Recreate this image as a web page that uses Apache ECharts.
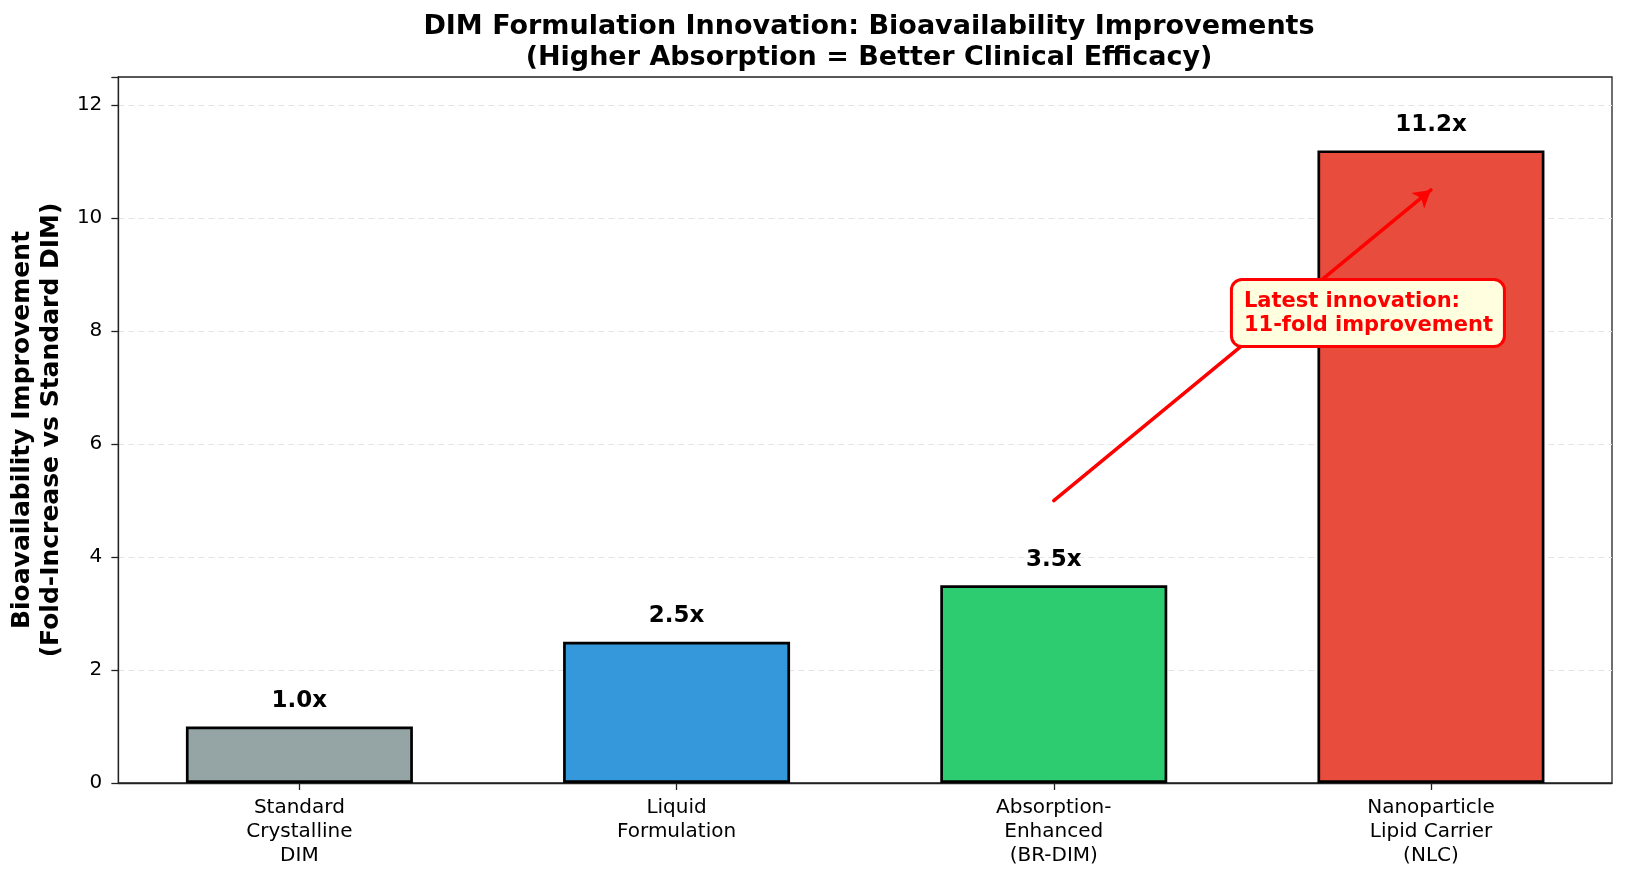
<!DOCTYPE html>
<html>
<head>
    <meta charset="utf-8" />
    <title>DIM Formulation Innovation</title>
    <script src="https://cdn.jsdelivr.net/npm/echarts@6/dist/echarts.min.js"></script>
    <style>
        html, body { margin: 0; padding: 0; background: #fff; }
        #chart { width: 1628px; height: 879px; }
    </style>
</head>
<body>
    <div id="chart"></div>
    <script type="text/javascript">
        // categories (x axis)
        const categories = [
            'Standard\nCrystalline\nDIM',
            'Liquid\nFormulation',
            'Absorption-\nEnhanced\n(BR-DIM)',
            'Nanoparticle\nLipid Carrier\n(NLC)'
        ];
        // fold increase vs standard DIM
        const foldValues = [1.0, 2.5, 3.5, 11.2];
        const barColors = ['#95a5a6', '#3498db', '#2ecc71', '#e74c3c'];
        // y ticks
        const yTicks = [0, 2, 4, 6, 8, 10, 12];
        // annotation: arrow from -> to, and box anchor (left-middle)
        const arrowFrom = [2, 5];
        const arrowTo = [3, 10.5];
        const noteAnchor = [2.475, 8.32];
        const noteText = 'Latest innovation:\n11-fold improvement';

        const font = 'DejaVu Sans';
        const catIdx = categories.map(function (c, i) { return i; });

        const chart = echarts.init(document.getElementById('chart'));
        const option = {
            backgroundColor: '#ffffff',
            textStyle: { fontFamily: font },
            title: {
                text: 'DIM Formulation Innovation: Bioavailability Improvements\n(Higher Absorption = Better Clinical Efficacy)',
                left: 864,
                top: 6,
                textAlign: 'center',
                textStyle: {
                    fontFamily: font,
                    fontSize: 27,
                    fontWeight: 'bold',
                    color: '#000',
                    lineHeight: 31
                }
            },
            grid: {
                left: 116,
                right: 16,
                top: 77,
                bottom: 96,
                show: true,
                borderColor: '#222',
                borderWidth: 1.3,
                backgroundColor: 'transparent'
            },
            xAxis: {
                type: 'value',
                min: -0.48,
                max: 3.48,
                axisLine: { show: true, onZero: false, lineStyle: { color: '#222', width: 1.3 } },
                axisTick: {
                    show: true,
                    customValues: catIdx,
                    length: 7,
                    lineStyle: { color: '#222', width: 1.3 }
                },
                axisLabel: {
                    customValues: catIdx,
                    margin: 13,
                    fontFamily: font,
                    fontSize: 20,
                    lineHeight: 24,
                    color: '#000',
                    align: 'center',
                    formatter: function (v) { return categories[Math.round(v)]; }
                },
                splitLine: { show: false }
            },
            yAxis: {
                type: 'value',
                min: 0,
                max: 12.5,
                interval: 2,
                name: 'Bioavailability Improvement\n(Fold-Increase vs Standard DIM)',
                nameLocation: 'middle',
                nameGap: 46,
                nameTextStyle: {
                    fontFamily: font,
                    fontSize: 25,
                    fontWeight: 'bold',
                    color: '#000',
                    lineHeight: 29
                },
                axisLine: { show: true, onZero: false, lineStyle: { color: '#222', width: 1.3 } },
                axisTick: { show: true, length: 7, lineStyle: { color: '#222', width: 1.3 } },
                axisLabel: {
                    margin: 16,
                    fontFamily: font,
                    fontSize: 20,
                    color: '#000',
                    formatter: function (v) { return yTicks.indexOf(v) >= 0 ? String(v) : ''; }
                },
                splitLine: {
                    show: true,
                    showMinLine: false,
                    showMaxLine: false,
                    lineStyle: { color: '#e4e4e4', type: [6, 4], width: 1.2 }
                }
            },
            series: [
                {
                    type: 'bar',
                    barWidth: 227,
                    data: foldValues.map(function (v, i) {
                        return {
                            value: [i, v],
                            itemStyle: { color: barColors[i] }
                        };
                    }),
                    itemStyle: { borderColor: '#000', borderWidth: 2.7 },
                    label: {
                        show: true,
                        position: 'top',
                        distance: 14,
                        fontFamily: font,
                        fontSize: 23,
                        fontWeight: 'bold',
                        color: '#000',
                        formatter: function (p) { return p.value[1].toFixed(1) + 'x'; }
                    },
                    markLine: {
                        silent: true,
                        symbol: ['none', 'arrow'],
                        symbolSize: [15, 17],
                        lineStyle: { color: '#ff0000', width: 3.5, type: 'solid', cap: 'round', opacity: 1 },
                        label: { show: false },
                        data: [[{ coord: arrowFrom }, { coord: arrowTo }]],
                        z: 5
                    }
                },
                {
                    type: 'scatter',
                    symbolSize: 0,
                    z: 10,
                    silent: true,
                    itemStyle: { opacity: 1 },
                    data: [noteAnchor],
                    label: {
                        show: true,
                        position: 'right',
                        distance: 0,
                        formatter: noteText,
                        fontFamily: font,
                        fontSize: 21,
                        fontWeight: 'bold',
                        lineHeight: 24,
                        color: '#ff0000',
                        opacity: 1,
                        align: 'left',
                        backgroundColor: '#ffffe0',
                        borderColor: '#ff0000',
                        borderWidth: 3,
                        borderRadius: 9,
                        padding: [8, 10, 8, 11]
                    }
                }
            ]
        };
        chart.setOption(option);
    </script>
</body>
</html>
